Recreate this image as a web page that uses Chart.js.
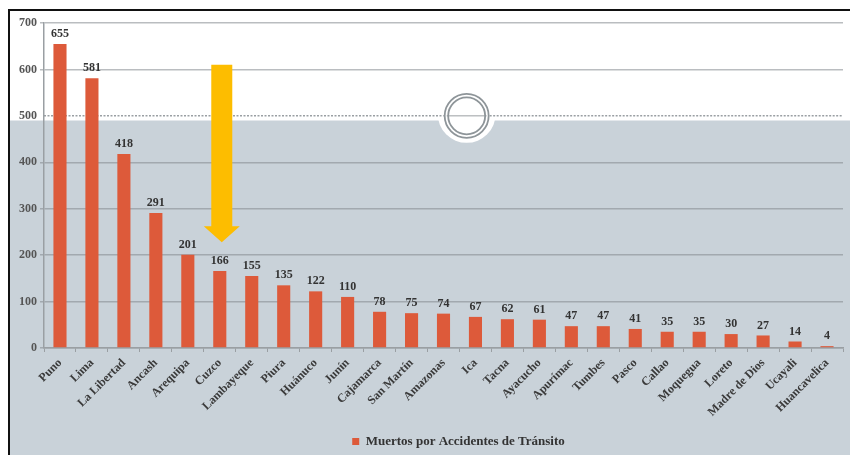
<!DOCTYPE html>
<html>
<head>
<meta charset="utf-8">
<script src="https://cdn.jsdelivr.net/npm/chart.js@4.4.1/dist/chart.umd.min.js"></script>
<style>
  html, body { margin: 0; padding: 0; background: #fff; }
  canvas { display: block; }
</style>
</head>
<body>
<canvas id="muertes" width="850" height="455"></canvas>
<script>
// Regiones y número de muertos por accidentes de tránsito
const regiones = ["Puno", "Lima", "La Libertad", "Ancash", "Arequipa", "Cuzco", "Lambayeque",
    "Piura", "Huánuco", "Junín", "Cajamarca", "San Martín", "Amazonas", "Ica", "Tacna",
    "Ayacucho", "Apurímac", "Tumbes", "Pasco", "Callao", "Moquegua", "Loreto",
    "Madre de Dios", "Ucayali", "Huancavelica"];
const muertos = [655, 581, 418, 291, 201, 166, 155, 135, 122, 110, 78, 75, 74, 67, 62,
    61, 47, 47, 41, 35, 35, 30, 27, 14, 4];
const ejeY = [0, 100, 200, 300, 400, 500, 600, 700];

// Flecha que señala a Cuzco (valores en el eje Y)
const flechaRegion = 5;
const flechaInicio = 610;
const flechaCabeza = 262;
const flechaPunta = 228;

// Límite del fondo gris y línea punteada
const limiteFondo = 490;
const lineaPunteada = 500;

const serif = '"Liberation Serif", "DejaVu Serif", serif';

// Fondo blanco/gris, marco y el círculo decorativo
const fondo = {
    id: "fondo",
    afterLayout(chart) {
        // la leyenda va algo a la derecha y abajo
        const ley = chart.legend;
        ley.left += 15; ley.right += 15;
        ley.top += 3; ley.bottom += 3;
    },
    beforeDraw(chart) {
        const { ctx, scales: { y }, chartArea } = chart;
        const yGris = y.getPixelForValue(limiteFondo);
        const y500 = y.getPixelForValue(lineaPunteada);
        const cx = chartArea.left + (chartArea.right - chartArea.left) * 0.529;
        ctx.save();
        ctx.fillStyle = "#fff";
        ctx.fillRect(0, 0, chart.width, chart.height);
        ctx.fillStyle = "#c9d2d9";
        ctx.fillRect(10, yGris, chart.width - 10, chart.height - yGris);
        ctx.fillStyle = "#fff";
        ctx.beginPath();
        ctx.arc(cx, y500 - 2, 29, 0, Math.PI * 2);
        ctx.fill();
        ctx.fillStyle = "#111";
        ctx.fillRect(8, 9, 2, chart.height - 9);
        ctx.fillRect(8, 9, chart.width - 8, 2);
        ctx.restore();
    },
    beforeDatasetsDraw(chart) {
        const { ctx, scales: { y }, chartArea } = chart;
        const y500 = y.getPixelForValue(lineaPunteada);
        const cx = chartArea.left + (chartArea.right - chartArea.left) * 0.529;
        ctx.save();
        ctx.strokeStyle = "#9a9fa3";
        ctx.lineWidth = 1.5;
        ctx.setLineDash([2, 1.5]);
        ctx.beginPath();
        ctx.moveTo(chartArea.left, y500);
        ctx.lineTo(cx - 23, y500);
        ctx.moveTo(cx + 23, y500);
        ctx.lineTo(chartArea.right, y500);
        ctx.stroke();
        ctx.setLineDash([]);
        ctx.lineWidth = 1;
        ctx.beginPath();
        ctx.moveTo(cx - 20, y500);
        ctx.lineTo(cx + 20, y500);
        ctx.stroke();
        ctx.lineWidth = 1.8;
        ctx.strokeStyle = "#8e9599";
        ctx.beginPath();
        ctx.arc(cx, y500, 22, 0, Math.PI * 2);
        ctx.stroke();
        ctx.beginPath();
        ctx.arc(cx, y500, 18.5, 0, Math.PI * 2);
        ctx.stroke();
        ctx.restore();
    }
};

// Etiquetas de valor y flecha amarilla
const etiquetas = {
    id: "etiquetas",
    afterDatasetsDraw(chart) {
        const { ctx, scales: { x, y } } = chart;
        const meta = chart.getDatasetMeta(0);
        ctx.save();
        ctx.font = "bold 12px " + serif;
        ctx.fillStyle = "#333";
        ctx.textAlign = "center";
        ctx.textBaseline = "bottom";
        meta.data.forEach((bar, i) => {
            ctx.fillText(muertos[i], bar.x, bar.y - 4);
        });

        const fx = x.getPixelForValue(flechaRegion) + 2;
        const top = y.getPixelForValue(flechaInicio);
        const cabeza = y.getPixelForValue(flechaCabeza);
        const punta = y.getPixelForValue(flechaPunta);
        ctx.fillStyle = "#fdbd00";
        ctx.beginPath();
        ctx.moveTo(fx - 10.5, top);
        ctx.lineTo(fx + 10.5, top);
        ctx.lineTo(fx + 10.5, cabeza);
        ctx.lineTo(fx + 18, cabeza);
        ctx.lineTo(fx, punta);
        ctx.lineTo(fx - 18, cabeza);
        ctx.lineTo(fx - 10.5, cabeza);
        ctx.closePath();
        ctx.fill();
        ctx.restore();
    }
};

const ctx = document.getElementById("muertes").getContext("2d");
new Chart(ctx, {
    type: "bar",
    data: {
        labels: regiones,
        datasets: [{
            label: "Muertos por Accidentes de Tránsito",
            data: muertos,
            backgroundColor: "#dd5a3a",
            barPercentage: 1,
            categoryPercentage: 0.41
        }]
    },
    options: {
        responsive: false,
        animation: false,
        layout: { padding: { left: 10, top: 23, right: 7, bottom: 0 } },
        plugins: {
            tooltip: { enabled: false },
            legend: {
                position: "bottom",
                fullSize: false,
                labels: {
                    boxWidth: 7,
                    boxHeight: 7,
                    padding: 8,
                    color: "#333",
                    font: { family: serif, size: 13, weight: "bold" }
                }
            }
        },
        scales: {
            x: {
                afterFit(s) { s.height = 76; },
                grid: {
                    drawOnChartArea: false,
                    tickLength: 4,
                    color: "#9a9fa3"
                },
                border: { color: "#9a9fa3", width: 1.5 },
                ticks: {
                    minRotation: 45,
                    maxRotation: 45,
                    padding: 4,
                    color: "#3a3a3a",
                    font: { family: serif, size: 12, weight: "bold" }
                }
            },
            y: {
                min: 0,
                max: 700,
                afterFit(s) { s.width = 34; },
                afterBuildTicks(s) { s.ticks = ejeY.map(v => ({ value: v })); },
                grid: {
                    tickLength: 4,
                    lineWidth: 1.5,
                    color: c => c.tick && c.tick.value === lineaPunteada ? "rgba(0,0,0,0)" : "rgba(130,135,140,0.55)"
                },
                border: { color: "#9a9fa3", width: 1.5 },
                ticks: {
                    padding: 3,
                    color: "#555",
                    font: { family: serif, size: 12, weight: "bold" }
                }
            }
        }
    },
    plugins: [fondo, etiquetas]
});
</script>
</body>
</html>
